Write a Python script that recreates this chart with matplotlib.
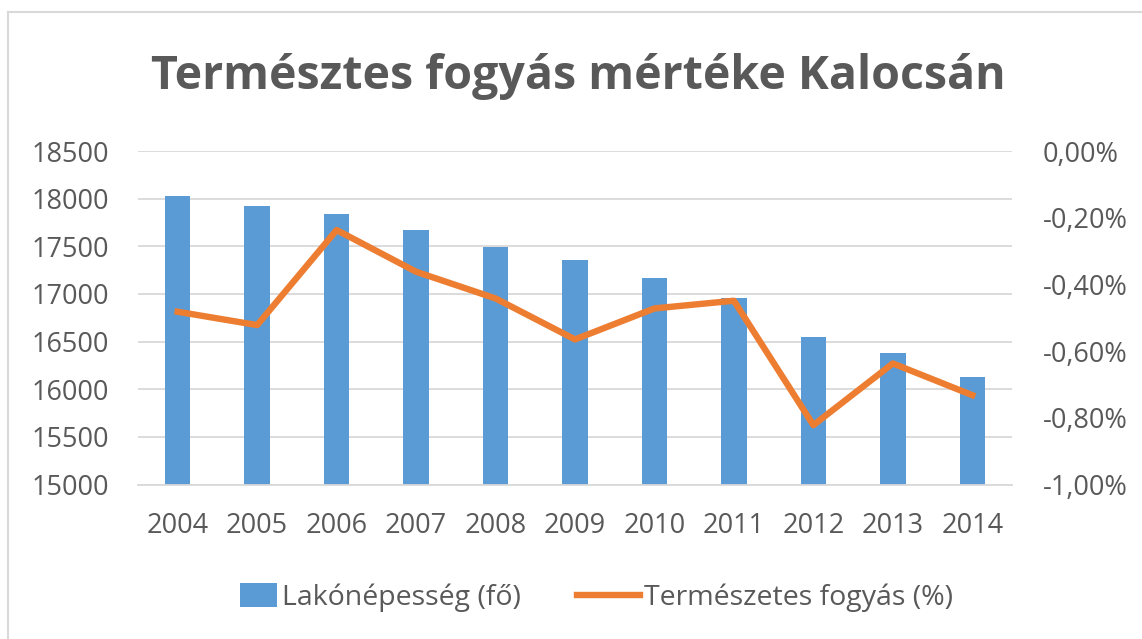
import matplotlib.pyplot as plt
from matplotlib.lines import Line2D
from matplotlib.patches import Patch, Rectangle
from matplotlib.legend_handler import HandlerPatch

years = ["2004", "2005", "2006", "2007", "2008", "2009", "2010", "2011", "2012", "2013", "2014"]
population = [18030, 17925, 17840, 17675, 17490, 17360, 17165, 16960, 16550, 16385, 16125]
decrease_pct = [-0.482, -0.522, -0.237, -0.362, -0.442, -0.565, -0.472, -0.449, -0.822, -0.637, -0.732]
left_ticks = [15000, 15500, 16000, 16500, 17000, 17500, 18000, 18500]
right_ticks = [-1.0, -0.8, -0.6, -0.4, -0.2, 0.0]

blue = "#5B9BD5"
orange = "#ED7D31"
txt = "#595959"
grid = "#D9D9D9"

plt.rcParams["font.family"] = ["Open Sans", "DejaVu Sans"]

W, H = 1142, 639
fig = plt.figure(figsize=(W / 100, H / 100), dpi=100)
ax = fig.add_axes([138 / W, 1 - 484.5 / H, 874 / W, 333.5 / H])

x = list(range(len(years)))
ax.bar(x, population, width=0.32, color=blue, zorder=2)
ax.set_xlim(-0.5, len(years) - 0.5)
ax.set_ylim(15000, 18500)
ax.set_yticks(left_ticks)
ax.set_xticks(x)
ax.set_xticklabels(years)
ax.yaxis.grid(True, color=grid, lw=1.3, zorder=0)
ax.set_axisbelow(True)
for s in ["top", "right", "left"]:
    ax.spines[s].set_visible(False)
ax.spines["bottom"].set_color(grid)
ax.spines["bottom"].set_linewidth(1.3)
ax.tick_params(axis="both", length=0, labelsize=19.5, colors=txt)
ax.tick_params(axis="x", pad=20)
ax.tick_params(axis="y", pad=21)

ax2 = ax.twinx()
ax2.plot(x, decrease_pct, color=orange, lw=4.6, solid_joinstyle="round", zorder=3)
ax2.set_ylim(-1.0, 0.0)
ax2.set_yticks(right_ticks)
ax2.set_yticklabels([f"{v:.2f}%".replace(".", ",") for v in right_ticks])
for s in ax2.spines.values():
    s.set_visible(False)
ax2.tick_params(axis="y", length=0, labelsize=19.5, colors=txt, pad=22)

fig.text(578 / W, 1 - 76 / H, "Természtes fogyás mértéke Kalocsán", ha="center", va="center",
         fontsize=33.5, fontweight="bold", color=txt)


def small_box(legend, orig_handle, xdescent, ydescent, width, height, fontsize):
    w = width * 0.6
    return Rectangle((xdescent + width - w, ydescent - height * 0.1), w, height * 1.2)


handles = [Patch(facecolor=blue, edgecolor="none"), Line2D([0], [0], color=orange, lw=4.6)]
fig.legend(handles, ["Lakónépesség (fő)", "Természetes fogyás (%)"], loc="center",
           bbox_to_anchor=(584 / W, 1 - 598 / H), ncol=2, frameon=False, fontsize=20.5,
           labelcolor=txt, handlelength=2.2, handletextpad=0.15, columnspacing=2.0,
           handler_map={Patch: HandlerPatch(patch_func=small_box)})

# chart area border (only top and left edges visible)
fig.add_artist(Line2D([8 / W, 1], [1 - 12 / H, 1 - 12 / H], color="#D9D9D9", lw=1.5))
fig.add_artist(Line2D([8 / W, 8 / W], [0, 1 - 12 / H], color="#D9D9D9", lw=1.5))

fig.savefig("out.png", dpi=100)
